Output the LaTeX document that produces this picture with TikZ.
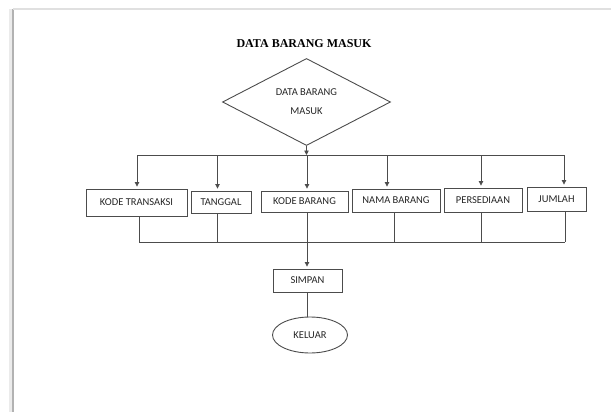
\documentclass[tikz,border=0pt]{standalone}
\usepackage{fontspec}
\setmainfont{Carlito}
\newfontfamily\titlefont{Liberation Serif}
\usetikzlibrary{shapes.geometric,arrows.meta}
\begin{document}
\begin{tikzpicture}[x=1pt,y=-1pt,
  font=\fontsize{10.5}{12}\selectfont,
  line/.style={draw=black!70, line width=0.8pt},
  arr/.style={line, -{Triangle[length=4.5pt,width=4.5pt]}},
  box/.style={draw=black!70, line width=0.9pt, rectangle, inner sep=0pt, text=black!85},
]
\useasboundingbox (0,0) rectangle (611,412);
% sheet edge with its shadow
\draw[black!8, line width=5pt] (11,9) -- (11,412);
\draw[black!30, line width=1.8pt] (13,9) -- (13,412);
\draw[black!12, line width=1.2pt] (13,9) -- (611,9);

% title and start
\node[font=\titlefont\bfseries\fontsize{12}{14}\selectfont] (title) at (304,44) {DATA BARANG MASUK};
\node[diamond, draw=black!70, line width=0.9pt, minimum width=168pt, minimum height=81pt,
      inner sep=0pt, align=center, text=black!85, font=\fontsize{10.5}{19}\selectfont]
      (dia) at (306.5,102) {\raisebox{-3pt}{DATA BARANG}\\\raisebox{-3pt}{MASUK}};

% data fields
\node[box, minimum width=101pt, minimum height=27pt] (kt) at (136.5,202.5) {KODE TRANSAKSI};
\node[box, minimum width=60pt,  minimum height=22pt] (tg) at (221,202)     {TANGGAL};
\node[box, minimum width=87pt,  minimum height=21pt] (kb) at (304.5,201.5) {KODE BARANG};
\node[box, minimum width=88pt,  minimum height=23pt] (nb) at (396,200.5)   {NAMA BARANG};
\node[box, minimum width=78pt,  minimum height=24pt] (ps) at (483,200)     {PERSEDIAAN};
\node[box, minimum width=59pt,  minimum height=24pt] (jm) at (556.5,199)   {JUMLAH};

% save and exit
\node[box, minimum width=69pt, minimum height=23pt] (sp) at (307.5,280.5) {SIMPAN};
\node[ellipse, draw=black!70, line width=0.9pt, minimum width=75pt, minimum height=36pt,
      inner sep=0pt, text=black!85] (kel) at (310,335) {KELUAR};

% upper distribution bus
\coordinate (t1) at (137,155);
\coordinate (t2) at (217.5,155);
\coordinate (t3) at (307,155);
\coordinate (t4) at (387,155);
\coordinate (t5) at (481,155);
\coordinate (t6) at (564,155);
\draw[arr] (dia.south) -- (dia.south |- t3);
\draw[line] (t1) -- (t6);
\draw[arr, shorten >=2pt] (t1) -- (t1 |- kt.north);
\draw[arr, shorten >=2pt] (t2) -- (t2 |- tg.north);
\draw[arr, shorten >=2pt] (t3) -- (t3 |- kb.north);
\draw[arr, shorten >=2pt] (t4) -- (t4 |- nb.north);
\draw[arr, shorten >=2pt] (t5) -- (t5 |- ps.north);
\draw[arr, shorten >=2pt] (t6) -- (t6 |- jm.north);

% lower collecting bus
\coordinate (d1) at (139,242);
\coordinate (d2) at (217,242);
\coordinate (d3) at (307,242);
\coordinate (d4) at (394,242);
\coordinate (d5) at (481,242);
\coordinate (d6) at (565,242);
\draw[line] (d1 |- kt.south) -- (d1);
\draw[line] (d2 |- tg.south) -- (d2);
\draw[line] (d3 |- kb.south) -- (d3);
\draw[line] (d4 |- nb.south) -- (d4);
\draw[line] (d5 |- ps.south) -- (d5);
\draw[line] (d6 |- jm.south) -- (d6);
\draw[line] (d1) -- (d6);
\draw[arr, shorten >=2pt] (d3) -- (d3 |- sp.north);
\draw[line] (sp.south) -- (sp.south |- kel.north);
\end{tikzpicture}
\end{document}
